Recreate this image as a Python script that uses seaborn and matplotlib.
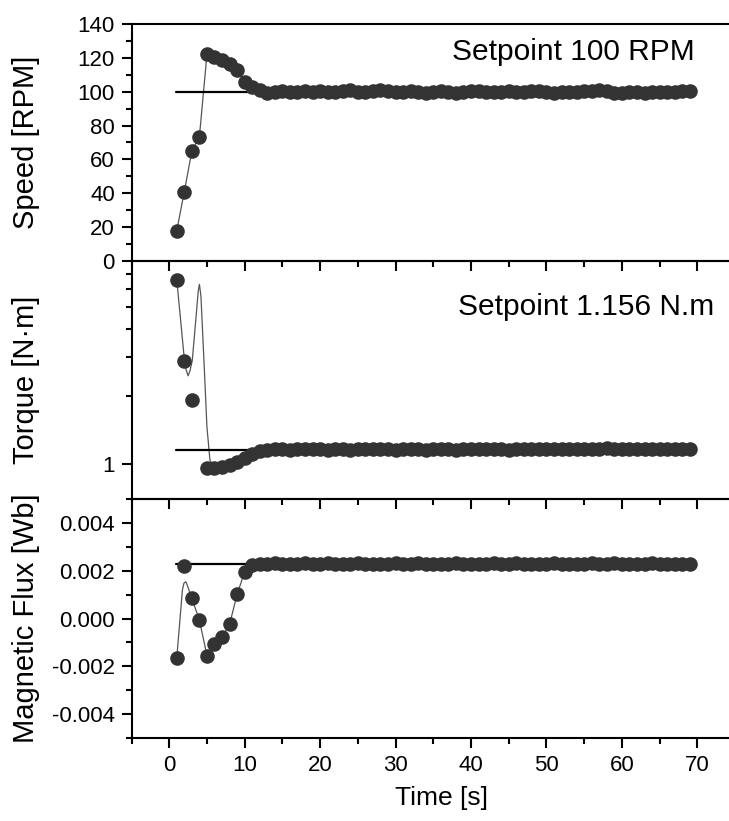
import numpy as np
import pandas as pd
import seaborn as sns
from matplotlib import pyplot as plt
from matplotlib.ticker import MultipleLocator, FixedLocator, FixedFormatter, NullFormatter, FormatStrFormatter

# sampling times (s)
time_s = [1, 2, 3, 4, 5, 6, 7, 8, 9, 10, 11, 12, 13, 14, 15, 16, 17, 18, 19, 20,
          21, 22, 23, 24, 25, 26, 27, 28, 29, 30, 31, 32, 33, 34, 35, 36, 37, 38, 39, 40,
          41, 42, 43, 44, 45, 46, 47, 48, 49, 50, 51, 52, 53, 54, 55, 56, 57, 58, 59, 60,
          61, 62, 63, 64, 65, 66, 67, 68, 69]

# speed [RPM]
speed_rpm = [18, 41, 65, 73.5, 122, 120.5, 118.5, 116.5, 113, 106,
             103, 101, 99.5, 99.8, 100.4, 99.6, 99.8, 100.2, 99.7, 100.3,
             100.0, 99.6, 100.4, 100.8, 100.1, 99.7, 100.5, 100.9, 100.2, 99.6,
             99.9, 100.6, 100.1, 99.5, 99.8, 100.3, 99.9, 99.4, 99.8, 100.2,
             100.6, 100.1, 99.7, 99.9, 100.3, 100.0, 99.6, 100.2, 100.5, 99.8,
             99.4, 99.7, 100.1, 99.8, 100.3, 100.7, 101.0, 100.2, 99.5, 99.3,
             99.6, 99.9, 99.5, 99.7, 100.0, 99.6, 99.8, 100.2, 100.4]

# torque [N.m]  (no marker visible at t = 4 s)
torque_nm = [6.6, 2.88, 1.93, np.nan, 0.96, 0.965, 0.975, 0.99, 1.02, 1.06,
             1.11, 1.15, 1.16, 1.165, 1.163, 1.16, 1.164, 1.162, 1.166, 1.163,
             1.161, 1.165, 1.163, 1.16, 1.164, 1.166, 1.162, 1.163, 1.165, 1.161,
             1.164, 1.166, 1.163, 1.16, 1.162, 1.165, 1.163, 1.161, 1.164, 1.166,
             1.162, 1.163, 1.165, 1.164, 1.161, 1.163, 1.166, 1.164, 1.162, 1.165,
             1.168, 1.166, 1.163, 1.165, 1.167, 1.17, 1.172, 1.174, 1.172, 1.169,
             1.167, 1.166, 1.168, 1.165, 1.166, 1.168, 1.165, 1.163, 1.162]

# magnetic flux [Wb]
flux_wb = [-0.00164, 0.0022, 0.00084, -0.00007, -0.00155, -0.00105, -0.00077, -0.00024, 0.00101, 0.00196,
           0.00222, 0.00228, 0.0023, 0.00231, 0.0023, 0.00229, 0.0023, 0.00231, 0.0023, 0.0023,
           0.00231, 0.0023, 0.00229, 0.0023, 0.00231, 0.0023, 0.0023, 0.00229, 0.0023, 0.00231,
           0.0023, 0.0023, 0.00231, 0.0023, 0.00229, 0.0023, 0.0023, 0.00231, 0.0023, 0.0023,
           0.00229, 0.0023, 0.00231, 0.0023, 0.0023, 0.00231, 0.0023, 0.00229, 0.0023, 0.0023,
           0.00231, 0.0023, 0.0023, 0.00229, 0.0023, 0.00231, 0.0023, 0.0023, 0.00231, 0.0023,
           0.00229, 0.0023, 0.0023, 0.00231, 0.0023, 0.0023, 0.00229, 0.0023, 0.0023]

# thin connecting curves where they leave the markers
torque_curve_t = [1, 2, 2.25, 2.5, 2.75, 3.05, 3.5, 3.85, 4.0, 4.2, 4.6, 5.0, 5.4]
torque_curve_v = [6.6, 2.93, 2.62, 2.47, 2.6, 2.88, 4.3, 5.9, 6.3, 5.6, 2.9, 1.46, 1.04]
flux_curve_t = [1, 1.75, 1.95, 2.2, 2.5]
flux_curve_v = [-0.00164, 0.0012, 0.00148, 0.00154, 0.0013]

# setpoints
setpoint_t = [0.9, 69]
speed_setpoint = 100
torque_setpoint = 1.156
flux_setpoint = 0.0023

sns.set_style('ticks')
plt.rcParams['font.family'] = ['Liberation Sans', 'DejaVu Sans']
plt.rcParams['axes.linewidth'] = 1.5
for key in ['text.color', 'axes.labelcolor', 'xtick.color', 'ytick.color', 'axes.edgecolor']:
    plt.rcParams[key] = 'black'

df = pd.DataFrame({'t': time_s, 'speed': speed_rpm, 'torque': torque_nm, 'flux': flux_wb})

torque_curve = pd.concat([
    pd.DataFrame({'t': torque_curve_t, 'v': torque_curve_v}),
    df.loc[df['t'] >= 6, ['t', 'torque']].rename(columns={'torque': 'v'})])
flux_curve = pd.concat([
    pd.DataFrame({'t': flux_curve_t, 'v': flux_curve_v}),
    df.loc[df['t'] >= 3, ['t', 'flux']].rename(columns={'flux': 'v'})])
speed_curve = df[['t', 'speed']].rename(columns={'speed': 'v'})

fig = plt.figure(figsize=(7.29, 8.21), dpi=100)
left, width = 0.1804, 0.8196
ax1 = fig.add_axes([left, 0.6821, width, 0.2887])
ax2 = fig.add_axes([left, 0.3922, width, 0.2899])
ax3 = fig.add_axes([left, 0.1011, width, 0.2911])

dot_color = '#333333'
curve_color = '#555555'

panels = [
    (ax1, speed_curve, 'speed', speed_setpoint, 'Speed [RPM]'),
    (ax2, torque_curve, 'torque', torque_setpoint, 'Torque [N\u00b7m]'),
    (ax3, flux_curve, 'flux', flux_setpoint, 'Magnetic Flux [Wb]'),
]

for ax, curve, col, sp, label in panels:
    ax.set_facecolor('none')
    if col == 'torque':
        ax.set_yscale('log')
    # thin curve
    sns.lineplot(data=curve, x='t', y='v', sort=False, estimator=None,
                 color=curve_color, linewidth=0.9, ax=ax, zorder=2)
    # setpoint
    sns.lineplot(x=setpoint_t, y=[sp, sp], color='black', linewidth=1.6,
                 ax=ax, zorder=2.5)
    # measured points
    sns.scatterplot(data=df, x='t', y=col, s=110, color=dot_color,
                    linewidth=0, ax=ax, zorder=3)
    ax.set_xlim(-5, 74.2)
    ax.xaxis.set_major_locator(MultipleLocator(10))
    ax.xaxis.set_minor_locator(MultipleLocator(5))
    ax.spines['right'].set_visible(False)
    ax.tick_params(which='major', direction='out', length=7, width=1.5,
                   labelsize=16, pad=5)
    ax.tick_params(which='minor', direction='out', length=4, width=1.5)
    ax.tick_params(axis='x', which='both', top=False)
    ax.set_xlabel('')
    ax.set_ylabel(label, fontsize=21)
    ax.yaxis.set_label_coords(-0.153, 0.5)

ax1.set_ylim(0, 140)
ax1.yaxis.set_major_locator(MultipleLocator(20))
ax1.yaxis.set_minor_locator(MultipleLocator(10))
ax1.tick_params(axis='x', labelbottom=False)
ax1.text(0.943, 0.883, 'Setpoint 100 RPM', transform=ax1.transAxes,
         ha='right', va='center', fontsize=21.5)

ax2.set_ylim(0.7, 8)
ax2.yaxis.set_major_locator(FixedLocator([1]))
ax2.yaxis.set_major_formatter(FixedFormatter(['1']))
ax2.yaxis.set_minor_locator(FixedLocator([2, 3, 4, 5, 6, 7]))
ax2.yaxis.set_minor_formatter(NullFormatter())
ax2.tick_params(axis='x', labelbottom=False)
ax2.text(0.975, 0.808, 'Setpoint 1.156 N.m', transform=ax2.transAxes,
         ha='right', va='center', fontsize=21.5)

ax3.set_ylim(-0.005, 0.005)
ax3.yaxis.set_major_locator(FixedLocator([-0.004, -0.002, 0.0, 0.002, 0.004]))
ax3.yaxis.set_major_formatter(FormatStrFormatter('%.3f'))
ax3.yaxis.set_minor_locator(MultipleLocator(0.001))
ax3.set_xlabel('Time [s]', fontsize=19)
ax3.xaxis.set_label_coords(0.518, -0.2)

fig.savefig('out.png', dpi=100)
